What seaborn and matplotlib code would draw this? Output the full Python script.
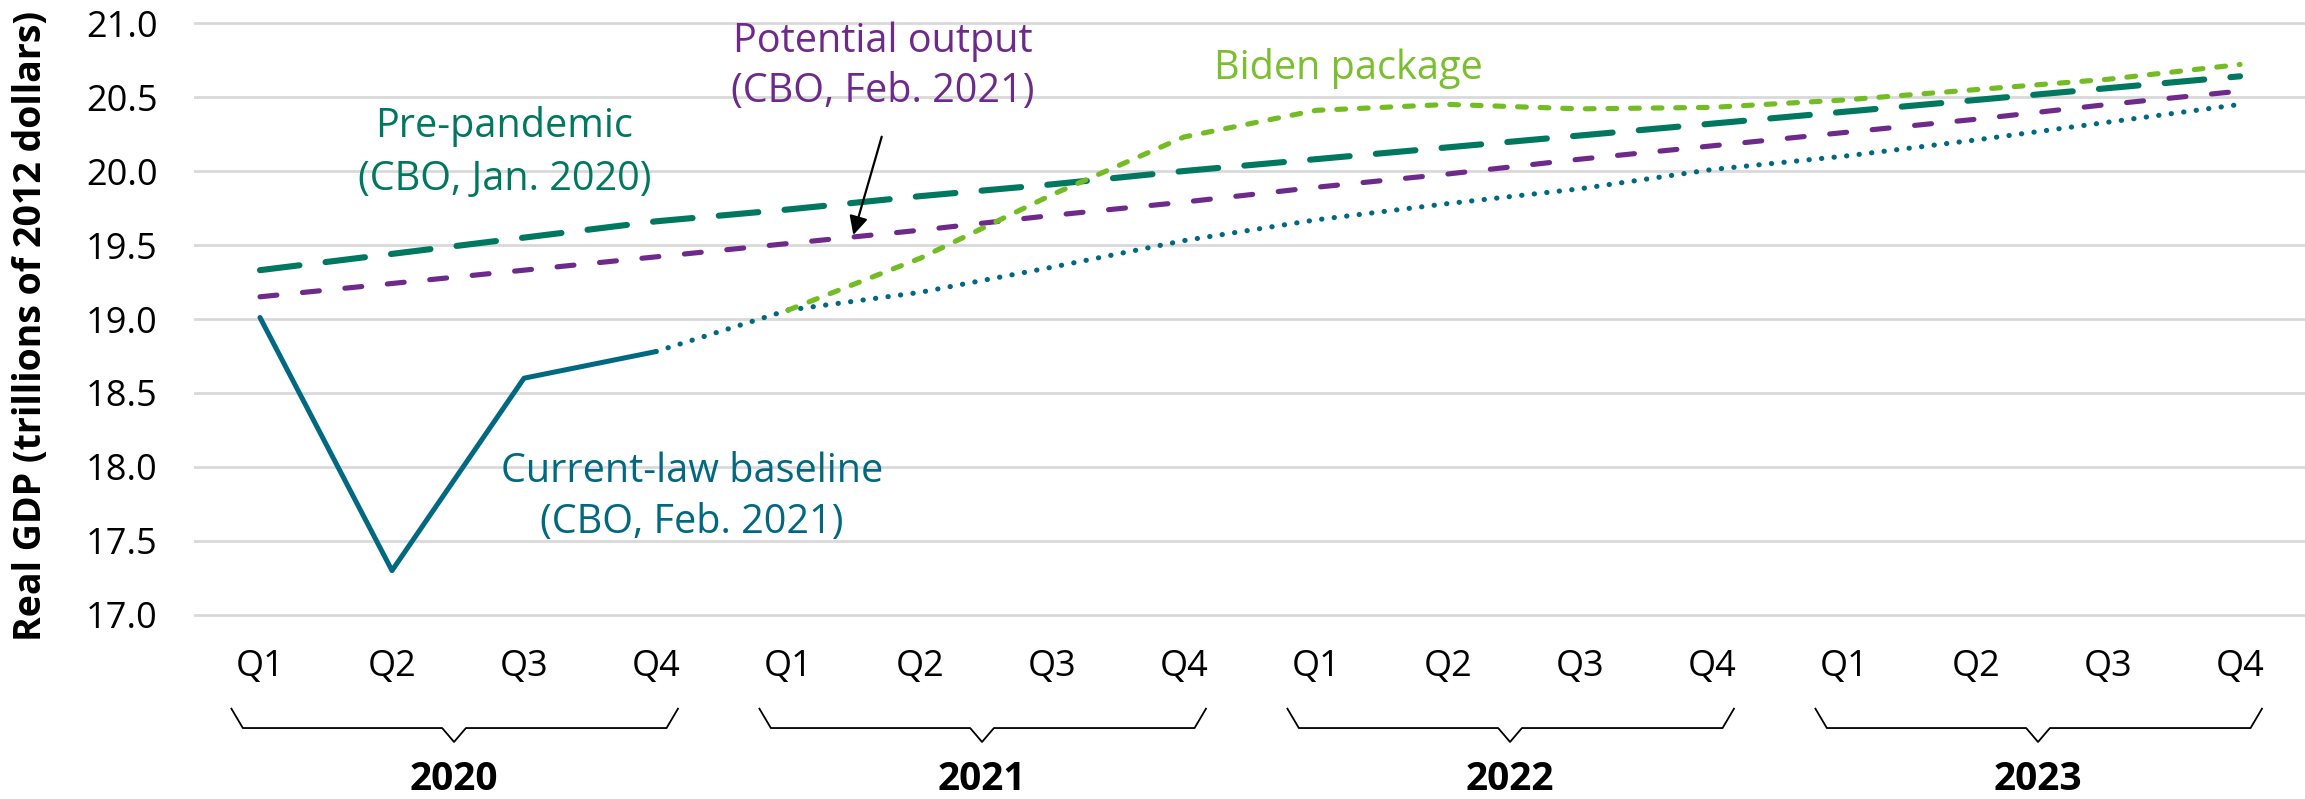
import numpy as np
import pandas as pd
import matplotlib
matplotlib.use("Agg")
import matplotlib.pyplot as plt
import seaborn as sns

# ---- data ----
quarters = ["Q1", "Q2", "Q3", "Q4"] * 4
years = ["2020", "2021", "2022", "2023"]

pre_pandemic = [19.33, 19.44, 19.55, 19.66, 19.74, 19.83, 19.91, 20.00,
                20.08, 20.16, 20.24, 20.32, 20.40, 20.48, 20.56, 20.64]
potential = [19.15, 19.24, 19.33, 19.42, 19.51, 19.60, 19.70, 19.79,
             19.89, 19.98, 20.08, 20.17, 20.26, 20.35, 20.45, 20.54]
current_actual = [19.01, 17.30, 18.60, 18.78]
current_proj = [18.78, 19.06, 19.18, 19.35, 19.53, 19.67, 19.78, 19.88,
                20.01, 20.10, 20.21, 20.33, 20.45]
biden = [19.06, 19.41, 19.84, 20.23, 20.41, 20.45, 20.42, 20.43,
         20.48, 20.55, 20.62, 20.72]

# ---- styles ----
TEAL_GREEN = "#00785F"
PURPLE = "#6E2A8B"
LIME = "#74BC24"
BLUE_TEAL = "#006880"

series_start = {
    "pre": 0, "pot": 0, "cur": 0, "cur_proj": 3, "biden": 4,
}
series_vals = {
    "pre": pre_pandemic, "pot": potential, "cur": current_actual,
    "cur_proj": current_proj, "biden": biden,
}
palette = {"pre": TEAL_GREEN, "pot": PURPLE, "cur": BLUE_TEAL,
           "cur_proj": BLUE_TEAL, "biden": LIME}
dashes = {"pre": (6.5, 4.3), "pot": (3.3, 5.0), "cur": "",
          "cur_proj": (0.05, 2.4), "biden": (1.7, 2.7)}
sizes = {"pre": 4.4, "pot": 3.7, "cur": 3.6, "cur_proj": 3.7, "biden": 3.7}

rows = []
for key, vals in series_vals.items():
    for j, v in enumerate(vals):
        rows.append({"x": series_start[key] + j, "gdp": v, "series": key})
df = pd.DataFrame(rows)

sns.set_theme(style="white")
plt.rcParams["font.family"] = ["Open Sans", "DejaVu Sans"]
plt.rcParams["lines.dash_capstyle"] = "round"
plt.rcParams["lines.solid_capstyle"] = "round"

W, H = 2305, 799
fig = plt.figure(figsize=(W / 100, H / 100), dpi=100)
ax = fig.add_axes([194 / W, 0.2118, 2112 / W, 0.7779])

sns.lineplot(data=df, x="x", y="gdp", hue="series", style="series",
             size="series", palette=palette, dashes=dashes, sizes=sizes,
             legend=False, ax=ax, zorder=3)

ax.set_xlim(-0.5, 15.5)
ax.set_ylim(16.9, 21.1)
ax.set_yticks(np.arange(17.0, 21.01, 0.5))
ax.set_yticklabels([f"{v:.1f}" for v in np.arange(17.0, 21.01, 0.5)])
ax.set_xticks(range(16))
ax.set_xticklabels(quarters)
ax.tick_params(axis="y", length=0, pad=26, labelsize=26, labelcolor="black")
ax.tick_params(axis="x", length=0, pad=14, labelsize=26, labelcolor="black")
ax.yaxis.grid(True, color="#D9D9D9", lw=2)
ax.xaxis.grid(False)
ax.set_axisbelow(True)
for s in ax.spines.values():
    s.set_visible(False)

ax.set_xlabel("")
ax.set_ylabel("Real GDP (trillions of 2012 dollars)", fontsize=27,
              fontweight="bold", color="black")
ax.yaxis.set_label_coords(-0.068, 0.489)

# year brackets below the quarter labels
for k, yr in enumerate(years):
    x0 = 4 * k
    bx = [x0 - 0.22, x0 - 0.13, x0 + 1.38, x0 + 1.47, x0 + 1.56, x0 + 3.08, x0 + 3.17]
    by = [16.372, 16.236, 16.236, 16.142, 16.236, 16.236, 16.372]
    ax.plot(bx, by, color="black", lw=1.3, clip_on=False, solid_capstyle="butt")
    ax.text(x0 + 1.47, 15.885, yr, ha="center", va="center", fontsize=28,
            fontweight="bold", color="black", clip_on=False)

# series labels
def label(x, baselines, lines, color):
    for b, t in zip(baselines, lines):
        ax.text(x, b, t, ha="center", va="baseline", fontsize=28.5, color=color)

label(1.852, [20.230, 19.872], ["Pre-pandemic", "(CBO, Jan. 2020)"], TEAL_GREEN)
label(4.716, [20.806, 20.468], ["Potential output", "(CBO, Feb. 2021)"], PURPLE)
label(8.242, [20.625], ["Biden package"], "#7BBE2E")
label(3.273, [17.901, 17.552], ["Current-law baseline", "(CBO, Feb. 2021)"], BLUE_TEAL)

ax.annotate("", xy=(4.495, 19.568), xytext=(4.710, 20.232),
            arrowprops=dict(arrowstyle="-|>", color="black", lw=1.6,
                            mutation_scale=28, shrinkA=0, shrinkB=0))

fig.savefig("out.png", dpi=100)
